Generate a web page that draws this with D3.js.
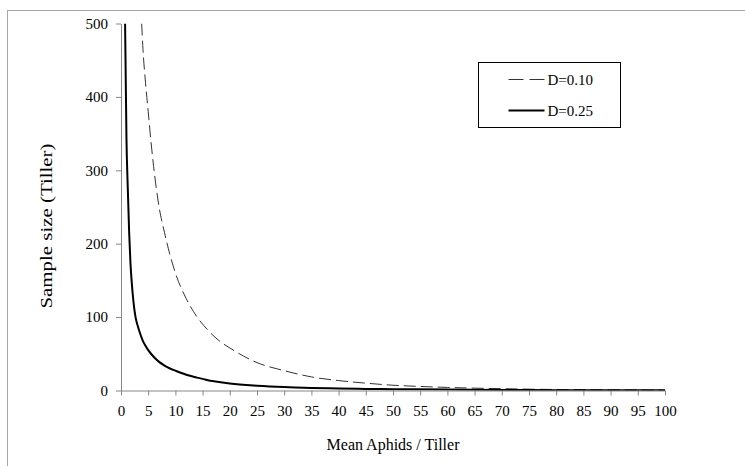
<!DOCTYPE html>
<html lang="en">
<head>
<meta charset="UTF-8">
<title>Sample size vs mean aphids</title>
<script src="https://d3js.org/d3.v7.min.js"></script>
<style>
    body { margin: 0; background: #fff; }
</style>
</head>
<body>
<div id="chart"></div>
<script>
    // values
    const meanD25 = [0.75, 1, 1.25, 1.5, 1.75, 2, 2.25, 2.5, 2.75, 3, 3.5, 4, 4.5, 5, 6, 7, 8, 9, 10, 12, 14, 16, 18, 20, 25, 30, 35, 40, 45, 50, 60, 70, 80, 90, 100];
    const sizeD25 = [500, 345, 275, 215, 172, 145, 124, 108, 97, 90, 78, 68, 61, 55, 46, 39, 34, 30, 27, 21.5, 17.5, 14, 11.5, 9.5, 6.5, 4.6, 3.5, 2.8, 2.2, 1.8, 1.2, 0.8, 0.5, 0.3, 0.2];

    const meanD10 = [3.8, 4, 4.5, 5, 5.5, 6, 7, 8, 9, 10, 12, 14, 16, 18, 20, 25, 30, 35, 40, 45, 50, 55, 60, 65, 70, 75, 80, 90, 100];
    const sizeD10 = [500, 470, 420, 380, 340, 305, 250, 215, 185, 160, 125, 100, 82, 68, 58, 38, 27, 18.5, 13.5, 10, 7.2, 5.5, 4.2, 3.2, 2.5, 1.8, 1.4, 0.9, 0.6];

    const xTicks = d3.range(0, 101, 5);
    const yTicks = [0, 100, 200, 300, 400, 500];

    const W = 745, H = 466;
    const plotLeft = 121, plotRight = 665, plotTop = 23.5, plotBottom = 390.5;
    const serif = 'Times New Roman, Times, Liberation Serif, DejaVu Serif, serif';

    const svg = d3.select('#chart').append('svg')
        .attr('width', W)
        .attr('height', H)
        .style('font-family', serif);

    // outer frame (right and bottom edges fall outside the picture)
    svg.append('rect')
        .attr('x', 7.5).attr('y', 10.5)
        .attr('width', W).attr('height', H)
        .attr('fill', 'none')
        .attr('stroke', '#a6a6a6');

    const x = d3.scaleLinear().domain([0, 100]).range([plotLeft, plotRight]);
    const y = d3.scaleLinear().domain([0, 500]).range([plotBottom, plotTop]);

    // axes
    const xAxis = svg.append('g')
        .attr('transform', `translate(0, ${plotBottom})`)
        .call(d3.axisBottom(x).tickValues(xTicks).tickSize(5).tickSizeOuter(0).tickPadding(10));

    const yAxis = svg.append('g')
        .attr('transform', `translate(${plotLeft}, 0)`)
        .call(d3.axisLeft(y).tickValues(yTicks).tickSize(5).tickSizeOuter(0).tickPadding(8));

    [xAxis, yAxis].forEach(g => {
        g.attr('font-family', null).attr('font-size', 15);
        g.selectAll('path, line').attr('stroke', '#868686');
        g.selectAll('text').attr('fill', '#000').style('font-family', serif);
    });

    // lines
    svg.append('clipPath').attr('id', 'plot')
        .append('rect')
        .attr('x', plotLeft).attr('y', plotTop)
        .attr('width', plotRight - plotLeft).attr('height', plotBottom - plotTop);

    const line = d3.line()
        .curve(d3.curveMonotoneX)
        .x(d => x(d[0]))
        .y(d => y(d[1]));

    svg.append('path')
        .datum(d3.zip(meanD10, sizeD10))
        .attr('clip-path', 'url(#plot)')
        .attr('d', line)
        .attr('fill', 'none')
        .attr('stroke', '#333')
        .attr('stroke-width', 1)
        .attr('stroke-dasharray', '12,5');

    svg.append('path')
        .datum(d3.zip(meanD25, sizeD25))
        .attr('clip-path', 'url(#plot)')
        .attr('d', line)
        .attr('fill', 'none')
        .attr('stroke', '#000')
        .attr('stroke-width', 2);

    // axis titles
    svg.append('text')
        .attr('x', (plotLeft + plotRight) / 2)
        .attr('y', 450)
        .attr('text-anchor', 'middle')
        .attr('font-size', 16)
        .style('font-family', serif)
        .text('Mean Aphids / Tiller');

    svg.append('text')
        .attr('transform', 'translate(52, 226) rotate(-90)')
        .attr('text-anchor', 'middle')
        .attr('font-size', 16)
        .attr('textLength', 165)
        .attr('lengthAdjust', 'spacingAndGlyphs')
        .style('font-family', serif)
        .text('Sample size (Tiller)');

    // legend
    const legend = svg.append('g').attr('transform', 'translate(478.5, 62.5)');
    legend.append('rect')
        .attr('width', 142).attr('height', 65)
        .attr('fill', '#fff')
        .attr('stroke', '#000');

    const legendItems = [
        { label: 'D=0.10', dash: '15,6', width: 1, color: '#333', y: 17 },
        { label: 'D=0.25', dash: null, width: 2, color: '#000', y: 48 }
    ];

    legendItems.forEach(d => {
        legend.append('line')
            .attr('x1', 30).attr('x2', 66)
            .attr('y1', d.y).attr('y2', d.y)
            .attr('stroke', d.color)
            .attr('stroke-width', d.width)
            .attr('stroke-dasharray', d.dash);
        legend.append('text')
            .attr('x', 69)
            .attr('y', d.y + 5)
            .attr('font-size', 15)
            .style('font-family', serif)
            .text(d.label);
    });
</script>
</body>
</html>
